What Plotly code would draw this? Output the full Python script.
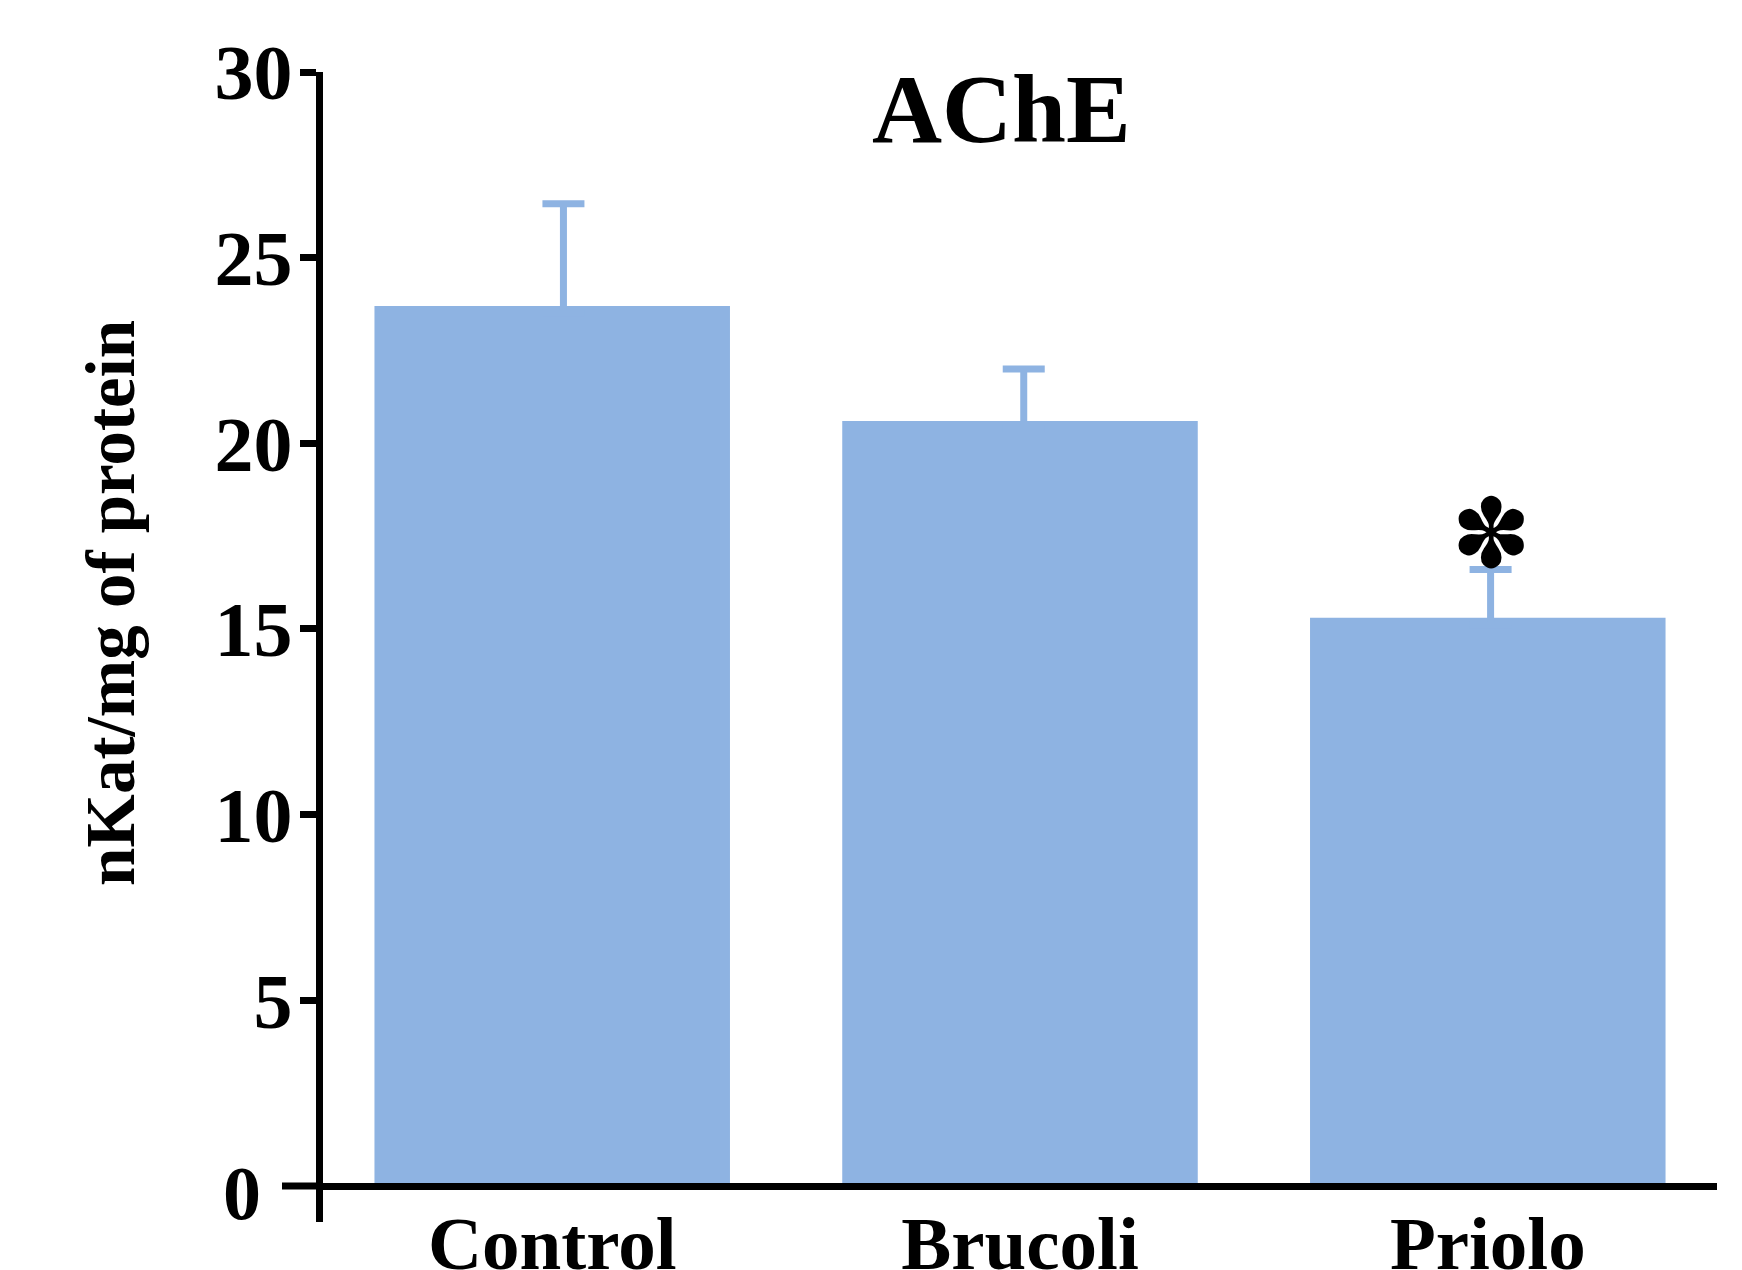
import plotly.graph_objects as go

# AChE activity per group (mean and error)
groups = ["Control", "Brucoli", "Priolo"]
ache_mean = [23.7, 20.6, 15.3]
ache_err = [2.75, 1.4, 1.3]
y_ticks = [5, 10, 15, 20, 25, 30]
significant = [False, False, True]

BAR_BLUE = "#8EB3E2"
FONT = "Liberation Serif"
Y_MIN, Y_MAX = -0.97, 30
PLOT_W, PLOT_H = 1394, 1150
# error whiskers sit slightly right of the bar centres
ERR_NUDGE = [0.024, 0.008, 0.006]
# lower whisker end tucked inside the bar so its cap stays hidden
TUCK = 0.2

xs = list(range(len(groups)))

fig = go.Figure()
fig.add_trace(go.Bar(
    x=xs,
    y=ache_mean,
    marker=dict(color=BAR_BLUE, line=dict(width=0)),
    width=0.76,
))
fig.add_trace(go.Scatter(
    x=[x + d for x, d in zip(xs, ERR_NUDGE)],
    y=ache_mean,
    mode="markers",
    marker=dict(size=0.1, color=BAR_BLUE, opacity=0),
    error_y=dict(type="data", array=ache_err, symmetric=False, arrayminus=[TUCK] * len(groups),
                 color=BAR_BLUE, thickness=7, width=21),
    hoverinfo="skip",
))

zero_paper = (0 - Y_MIN) / (Y_MAX - Y_MIN)

fig.update_layout(
    width=1742, height=1270,
    margin=dict(l=323, r=25, t=72, b=48, autoexpand=False),
    paper_bgcolor="white", plot_bgcolor="white",
    showlegend=False,
    font=dict(family=FONT, color="black"),
    xaxis=dict(
        range=[-0.49, 2.49],
        tickvals=xs,
        ticktext=[f"<b>{g}</b>" for g in groups],
        tickfont=dict(size=75, family=FONT, color="black"),
        showgrid=False, zeroline=False,
        showline=True, linecolor="black", linewidth=7,
        ticks="", anchor="free", position=zero_paper,
        ticklabelstandoff=-11, automargin=False,
    ),
    yaxis=dict(
        range=[Y_MIN, Y_MAX],
        tickvals=y_ticks,
        ticktext=[f"<b>{v}</b>" for v in y_ticks],
        tickfont=dict(size=78, family=FONT, color="black"),
        showgrid=False, zeroline=False,
        showline=True, linecolor="black", linewidth=7,
        ticks="outside", ticklen=16, tickwidth=7, tickcolor="black",
        ticklabelstandoff=-8, automargin=False,
    ),
)

# x axis continues a little to the left of the y axis
fig.add_shape(type="line", xref="paper", yref="paper",
              x0=-41 / PLOT_W, x1=0, y0=zero_paper, y1=zero_paper,
              line=dict(color="black", width=7))

# zero label sits at the end of the extended x axis line
fig.add_annotation(xref="paper", yref="paper", x=-60 / PLOT_W, y=zero_paper, yshift=-7,
                   text="<b>0</b>", showarrow=False, xanchor="right", yanchor="middle",
                   font=dict(size=76, family=FONT, color="black"))

# title
fig.add_annotation(xref="paper", yref="paper", x=(1001 - 323) / PLOT_W, y=1 + (72 - 110) / PLOT_H,
                   text="<b>AChE</b>", showarrow=False, xanchor="center", yanchor="middle",
                   font=dict(size=97, family=FONT, color="black"))

# y axis title
fig.add_annotation(xref="paper", yref="paper", x=(111 - 323) / PLOT_W, y=1 - (603 - 72) / PLOT_H,
                   text="<b>nKat/mg of protein</b>", showarrow=False, textangle=-90,
                   xanchor="center", yanchor="middle",
                   font=dict(size=69, family=FONT, color="black"))

# significance marks
for i, (m, e, s) in enumerate(zip(ache_mean, ache_err, significant)):
    if s:
        fig.add_annotation(x=i + ERR_NUDGE[i], y=m + e, text="✽", showarrow=False,
                           xanchor="center", yanchor="middle", yshift=36,
                           font=dict(size=96, family="DejaVu Sans", color="black"))

fig.write_html("out.html")
